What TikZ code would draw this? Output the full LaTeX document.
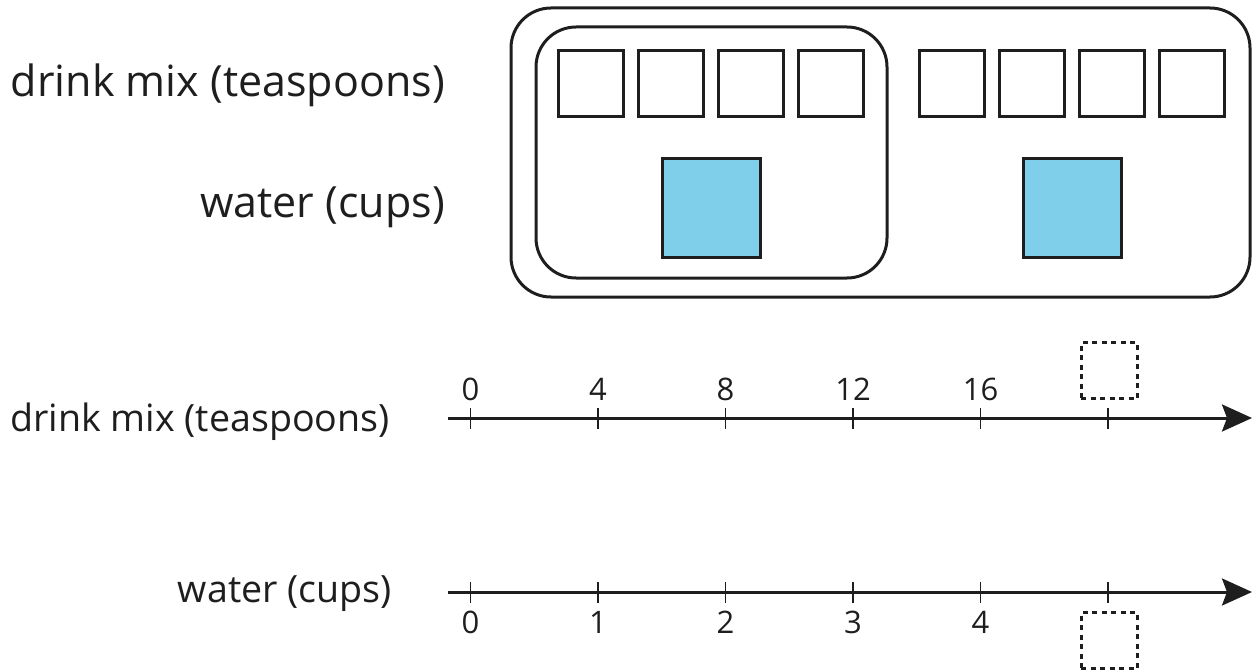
\documentclass[tikz,border=0pt]{standalone}
\usepackage{fontspec}
\setmainfont{Open Sans}
\usetikzlibrary{arrows.meta}
\definecolor{waterblue}{RGB}{127,207,235}
\definecolor{ink}{RGB}{30,30,30}
\tikzset{
  biglabel/.style={anchor=base east, inner sep=0pt, text=ink, font=\fontsize{43}{50}\selectfont},
  axlabel/.style={anchor=base east, inner sep=0pt, text=ink, font=\fontsize{37.6}{44}\selectfont},
  num/.style={anchor=base, inner sep=0pt, text=ink, font=\fontsize{31}{36}\selectfont},
  mixbox/.style={draw=ink, line width=3pt, minimum width=65pt, minimum height=66pt, inner sep=0pt},
  cupbox/.style={draw=ink, fill=waterblue, line width=3pt, minimum width=98pt, minimum height=98pt, inner sep=0pt},
  group/.style={draw=ink, line width=3pt, rounded corners=40pt},
  blank/.style={draw=ink, line width=3pt, dash pattern=on 5pt off 4.5pt, minimum width=56pt, minimum height=56pt, inner sep=0pt},
  axis/.style={draw=ink, line width=3pt, -{Stealth[length=30pt,width=27pt,inset=5pt]}},
  tickmark/.style={draw=ink, line width=1.3pt},
}
\begin{document}
\begin{tikzpicture}[x=1pt,y=-1pt]
\useasboundingbox (0,0) rectangle (1252,671);
% tape diagram
\draw[group] (511,8) rectangle (1250,297);
\draw[group] (536,27) rectangle (887,278);
\foreach \i/\x in {1/590.5,2/670.5,3/750.5,4/830.5,5/951.5,6/1031.5,7/1111.5,8/1191.5}
  \node[mixbox] (m\i) at (\x,84) {};
\node[cupbox] (c1) at (711,208) {};
\node[cupbox] (c2) at (1072.5,208) {};
\node[biglabel] (lmix) at (445,97) {drink mix (teaspoons)};
\node[biglabel] (lwat) at (445,217) {water (cups)};
% double number line
\coordinate (a1s) at (448,418);
\coordinate (a1e) at (1252,418);
\coordinate (a2s) at (448,592);
\coordinate (a2e) at (1252,592);
\draw[axis] (a1s) -- (a1e);
\draw[axis] (a2s) -- (a2e);
\foreach \k/\x/\t/\b in {0/470.5/0/0,1/598/4/1,2/725.5/8/2,3/853/12/3,4/980.5/16/4}{
  \draw[tickmark] (\x,408) -- (\x,429);
  \draw[tickmark] (\x,582) -- (\x,603);
  \node[num] (t\k) at (\x,400) {\t};
  \node[num] (b\k) at (\x,633) {\b};
}
\draw[tickmark] (1108,408) -- (1108,429);
\draw[tickmark] (1108,582) -- (1108,603);
\node[blank] (q1) at (1109,370.5) {};
\node[blank] (q2) at (1109,640.5) {};
\node[axlabel] (nmix) at (390,431) {drink mix (teaspoons)};
\node[axlabel] (nwat) at (392,602) {water (cups)};
\end{tikzpicture}
\end{document}
